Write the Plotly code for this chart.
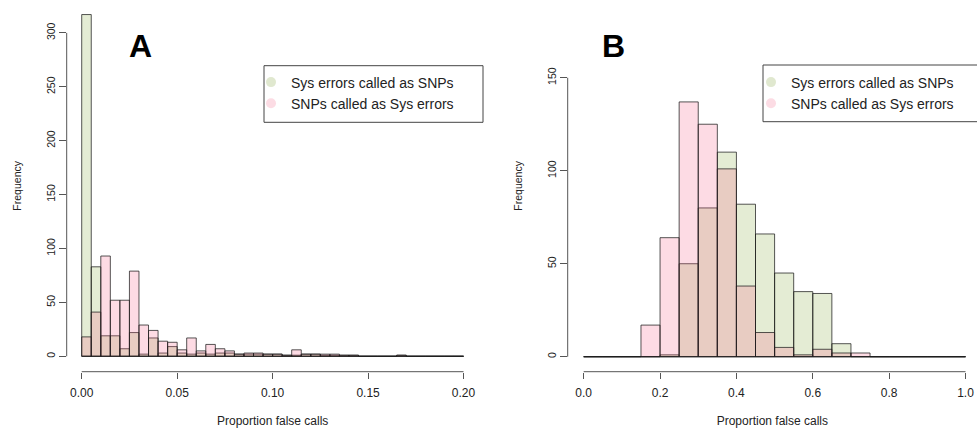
import numpy as np
import plotly.graph_objects as go

# ---------------- data ----------------
# Panel A: 40 bins of width 0.005 on [0, 0.2]
a_bin_start = 0.0
a_bin_width = 0.005
a_sys_as_snp = [317, 83, 19, 19, 7, 22, 2, 17, 3, 9,
                3, 2, 3, 2, 3, 3, 2, 2, 2, 2,
                2, 1, 1, 2, 2, 1, 1, 1, 1, 0,
                0, 0, 0, 1, 0, 0, 0, 0, 0, 0]
a_snp_as_sys = [18, 41, 93, 52, 52, 79, 29, 24, 14, 13,
                6, 17, 5, 11, 7, 5, 2, 3, 3, 2,
                2, 1, 6, 2, 2, 2, 2, 1, 1, 0,
                0, 0, 0, 1, 0, 0, 0, 0, 0, 0]
a_xticks = [0.0, 0.05, 0.10, 0.15, 0.20]
a_xticklabels = ["0.00", "0.05", "0.10", "0.15", "0.20"]
a_yticks = [0, 50, 100, 150, 200, 250, 300]

# Panel B: 20 bins of width 0.05 on [0, 1]
b_bin_start = 0.0
b_bin_width = 0.05
b_sys_as_snp = [0, 0, 0, 0, 1, 50, 80, 110, 82, 66,
                45, 35, 34, 7, 0, 0, 0, 0, 0, 0]
b_snp_as_sys = [0, 0, 0, 17, 64, 137, 125, 101, 38, 13,
                5, 1, 4, 2, 2, 0, 0, 0, 0, 0]
b_xticks = [0.0, 0.2, 0.4, 0.6, 0.8, 1.0]
b_xticklabels = ["0.0", "0.2", "0.4", "0.6", "0.8", "1.0"]
b_yticks = [0, 50, 100, 150]

series_names = ["Sys errors called as SNPs", "SNPs called as Sys errors"]

# ---------------- style ----------------
W, H = 977, 428
FONT = "Liberation Sans, Arial, sans-serif"
GREEN_FILL = "rgba(120,160,40,0.2)"
PINK_FILL = "rgba(245,90,130,0.22)"
GREEN_DOT = "rgb(224,232,207)"
PINK_DOT = "rgb(252,220,228)"
BAR_LINE = "rgba(30,30,30,0.75)"
AXIS_COL = "#555555"
TEXT_COL = "#222222"

def px_x(p):
    return p / W

def px_y(p):
    return 1 - p / H

fig = go.Figure()

def add_panel(start, width, sys_vals, snp_vals, xa, ya, legend_name):
    n = len(sys_vals)
    edges = start + width * np.arange(n + 1)
    centers = (edges[:-1] + edges[1:]) / 2
    # zero-count baseline (R draws empty bins as flat lines)
    fig.add_trace(go.Scatter(x=[edges[0], edges[-1]], y=[0, 0], mode="lines",
                             line=dict(color=BAR_LINE, width=1), xaxis=xa, yaxis=ya,
                             showlegend=False, hoverinfo="skip"))
    for vals, fill in ((sys_vals, GREEN_FILL), (snp_vals, PINK_FILL)):
        fig.add_trace(go.Bar(x=centers, y=vals, width=width, xaxis=xa, yaxis=ya,
                             marker=dict(color=fill, line=dict(color=BAR_LINE, width=1)),
                             showlegend=False))
    for name, dot in zip(series_names, (GREEN_DOT, PINK_DOT)):
        fig.add_trace(go.Scatter(x=[None], y=[None], mode="markers", name=name,
                                 marker=dict(symbol="circle", size=10, color=dot),
                                 xaxis=xa, yaxis=ya, legend=legend_name))

add_panel(a_bin_start, a_bin_width, a_sys_as_snp, a_snp_as_sys, "x", "y", "legend")
add_panel(b_bin_start, b_bin_width, b_sys_as_snp, b_snp_as_sys, "x2", "y2", "legend2")

common_axis = dict(showgrid=False, zeroline=False, showline=False, ticks="outside",
                   tickcolor=AXIS_COL, tickwidth=1, color=TEXT_COL)

xa_common = dict(common_axis, ticklen=6, tickfont=dict(size=12, family=FONT, color=TEXT_COL),
                 ticklabelstandoff=4,
                 title=dict(text="Proportion false calls", font=dict(size=12, family=FONT, color=TEXT_COL),
                            standoff=18))
ya_common = dict(common_axis, ticklen=7, tickangle=-90, ticklabelstandoff=0,
                 tickfont=dict(size=10.5, family=FONT, color=TEXT_COL),
                 title=dict(text="Frequency", font=dict(size=10.5, family=FONT, color=TEXT_COL),
                            standoff=20))

ydom = [px_y(371.7), 1.0]
fig.update_layout(
    width=W, height=H,
    margin=dict(l=0, r=0, t=0, b=0),
    paper_bgcolor="white", plot_bgcolor="white",
    barmode="overlay",
    font=dict(family=FONT, color=TEXT_COL),
    xaxis=dict(xa_common, domain=[px_x(66.7), px_x(478.6)], range=[-0.00786, 0.2079],
               tickvals=a_xticks, ticktext=a_xticklabels, anchor="y"),
    yaxis=dict(ya_common, domain=ydom, range=[-14.3, 330.5], tickvals=a_yticks, anchor="x"),
    xaxis2=dict(xa_common, domain=[px_x(567.7), 1.0], range=[-0.0419, 1.0301],
                tickvals=b_xticks, ticktext=b_xticklabels, anchor="y2"),
    yaxis2=dict(ya_common, domain=ydom, range=[-8.06, 191.8], tickvals=b_yticks, anchor="x2"),
    legend=dict(x=px_x(251), y=px_y(66.5), xanchor="left", yanchor="top",
                bgcolor="rgba(0,0,0,0)", borderwidth=0,
                font=dict(size=14, family=FONT, color=TEXT_COL)),
    legend2=dict(x=px_x(751), y=px_y(66.5), xanchor="left", yanchor="top",
                 bgcolor="rgba(0,0,0,0)", borderwidth=0,
                 font=dict(size=14, family=FONT, color=TEXT_COL)),
    showlegend=True,
)

shapes = []
# axis lines spanning only first..last tick (R style)
shapes.append(dict(type="line", xref="x", yref="y domain", x0=a_xticks[0], x1=a_xticks[-1], y0=0, y1=0,
                   line=dict(color=AXIS_COL, width=1)))
shapes.append(dict(type="line", xref="x domain", yref="y", x0=0, x1=0, y0=a_yticks[0], y1=a_yticks[-1],
                   line=dict(color=AXIS_COL, width=1)))
shapes.append(dict(type="line", xref="x2", yref="y2 domain", x0=b_xticks[0], x1=b_xticks[-1], y0=0, y1=0,
                   line=dict(color=AXIS_COL, width=1)))
shapes.append(dict(type="line", xref="x2 domain", yref="y2", x0=0, x1=0, y0=b_yticks[0], y1=b_yticks[-1],
                   line=dict(color=AXIS_COL, width=1)))
# legend boxes
shapes.append(dict(type="rect", xref="paper", yref="paper", x0=px_x(264), x1=px_x(483),
                   y0=px_y(122.3), y1=px_y(65.7), line=dict(color="#444444", width=1)))
shapes.append(dict(type="rect", xref="paper", yref="paper", x0=px_x(763), x1=1.02,
                   y0=px_y(121.7), y1=px_y(65), line=dict(color="#444444", width=1)))
fig.update_layout(shapes=shapes)

for letter, lx in (("A", 140), ("B", 613)):
    fig.add_annotation(text="<b>%s</b>" % letter, x=px_x(lx), y=px_y(45.5), xref="paper", yref="paper",
                       xanchor="center", yanchor="middle", showarrow=False,
                       font=dict(size=32, family=FONT, color="#000000"))

fig.write_html("out.html", config={"displayModeBar": False},
               post_script="document.body.style.margin='0';document.body.style.padding='0';")
